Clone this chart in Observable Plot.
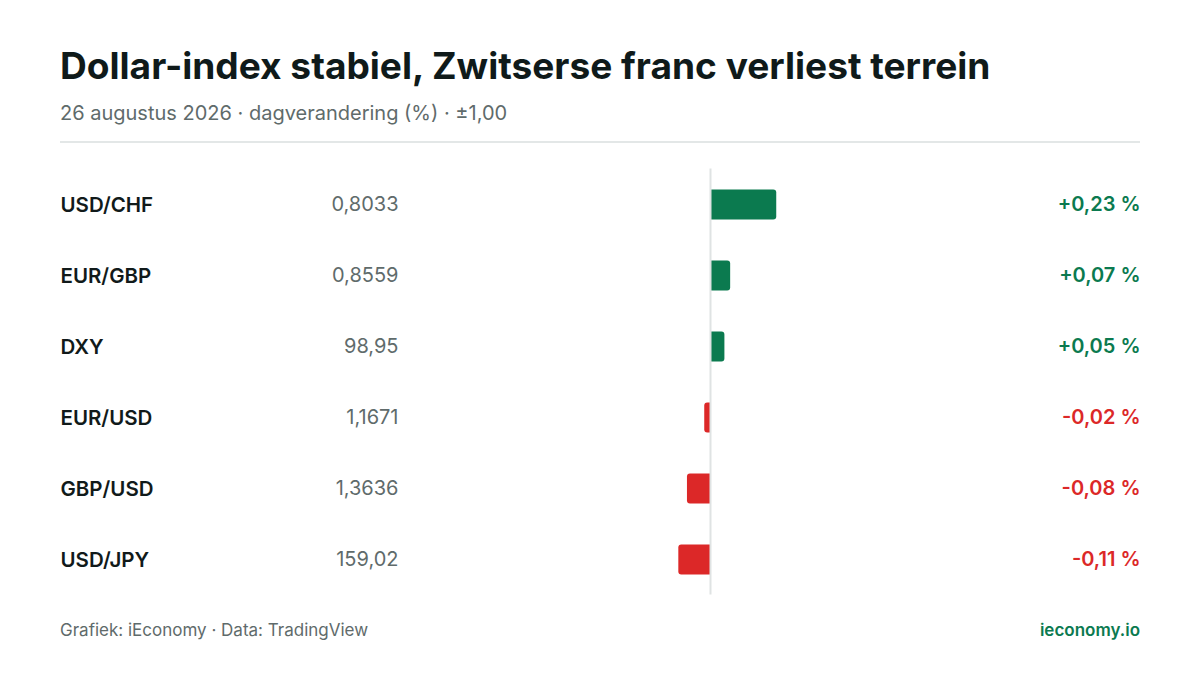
<!DOCTYPE html>
<html>
<head>
<meta charset="utf-8">
<script src="https://cdn.jsdelivr.net/npm/d3@7"></script>
<script src="https://cdn.jsdelivr.net/npm/@observablehq/plot@0.6"></script>
<style>
  html, body { margin: 0; padding: 0; background: #ffffff; }
  body { width: 1200px; height: 675px; overflow: hidden; font-family: Inter, "Noto Sans", sans-serif; }
  #wrap { position: relative; width: 1200px; height: 675px; }
  #title { position: absolute; left: 60px; top: 42px; font-size: 37.1px; font-weight: 700; color: #0f1a1a; line-height: 48px; white-space: nowrap; }
  #subtitle { position: absolute; left: 60px; top: 100px; font-size: 20px; font-weight: 400; color: #5f6b6b; line-height: 26px; white-space: nowrap; }
  #divider { position: absolute; left: 60px; top: 141px; width: 1080px; height: 2px; background: #e3e7e7; }
  #chart { position: absolute; left: 60px; top: 160px; }
  #footer-left { position: absolute; left: 60px; top: 619px; font-size: 17px; color: #5f6b6b; line-height: 22px; }
  #footer-right { position: absolute; right: 60px; top: 619px; font-size: 17px; font-weight: 600; color: #0b7a50; line-height: 22px; }
</style>
</head>
<body>
<div id="wrap">
  <div id="title">Dollar-index stabiel, Zwitserse franc verliest terrein</div>
  <div id="subtitle">26 augustus 2026 · dagverandering (%) · ±1,00</div>
  <div id="divider"></div>
  <div id="chart"></div>
  <div id="footer-left">Grafiek: iEconomy · Data: TradingView</div>
  <div id="footer-right">ieconomy.io</div>
</div>
<script>
// Data
const pairs = ["USD/CHF", "EUR/GBP", "DXY", "EUR/USD", "GBP/USD", "USD/JPY"];
const quotes = ["0,8033", "0,8559", "98,95", "1,1671", "1,3636", "159,02"];
const changes = [0.23, 0.07, 0.05, -0.02, -0.08, -0.11];
const xDomain = [-1, 1];

const GREEN = "#0b7a4f";
const RED = "#dc2828";

const rows = pairs.map((p, i) => ({
  pair: p,
  quote: quotes[i],
  change: changes[i],
  color: changes[i] >= 0 ? GREEN : RED,
  label: (changes[i] >= 0 ? "+" : "-") + Math.abs(changes[i]).toFixed(2).replace(".", ",") + " %"
}));

// Does this Plot build support per-corner rounding (0.6.12+)?
const ver = String(Plot.version || "0.6.0").split(".").map(Number);
const perCorner = ver[0] > 0 || ver[1] > 6 || (ver[1] === 6 && ver[2] >= 12);

const barBase = { y: "pair", x1: 0, x2: "change", fill: "color", insetTop: 20.5, insetBottom: 20.5 };
const barMarks = perCorner
  ? [
      Plot.barX(rows, { ...barBase, filter: d => d.change >= 0, rx2: 3 }),
      Plot.barX(rows, { ...barBase, filter: d => d.change < 0, rx1: 3 })
    ]
  : [
      Plot.barX(rows, { ...barBase, rx: 3 }),
      Plot.barX(rows, { ...barBase, x2: d => d.change / 2 })
    ];

const W = 1080, H = 443;

const chart = Plot.plot({
  width: W,
  height: H,
  marginTop: 8.5,
  marginBottom: 8.5,
  marginLeft: 0,
  marginRight: 0,
  style: { fontFamily: "Inter, 'Noto Sans', sans-serif", background: "transparent", overflow: "visible" },
  x: { domain: xDomain, range: [650 - 288, 650 + 288], axis: null },
  y: { type: "band", domain: pairs, padding: 0, axis: null },
  color: { type: "identity" },
  marks: [
    ...barMarks,
    // zero line
    Plot.ruleX([0], { stroke: "#dfe3e3", strokeWidth: 2 }),
    // pair labels
    Plot.text(rows, { y: "pair", text: "pair", frameAnchor: "left", textAnchor: "start", fontSize: 20.5, fontWeight: 600, fill: "#111a1a" }),
    // quote values
    Plot.text(rows, { y: "pair", text: "quote", frameAnchor: "left", textAnchor: "end", dx: 338, fontSize: 20, fontWeight: 400, fill: "#5f6b6b" }),
    // change labels
    Plot.text(rows, { y: "pair", text: "label", frameAnchor: "right", textAnchor: "end", fontSize: 20, fontWeight: 600, fill: "color" })
  ]
});

document.getElementById("chart").appendChild(chart);
</script>
</body>
</html>
